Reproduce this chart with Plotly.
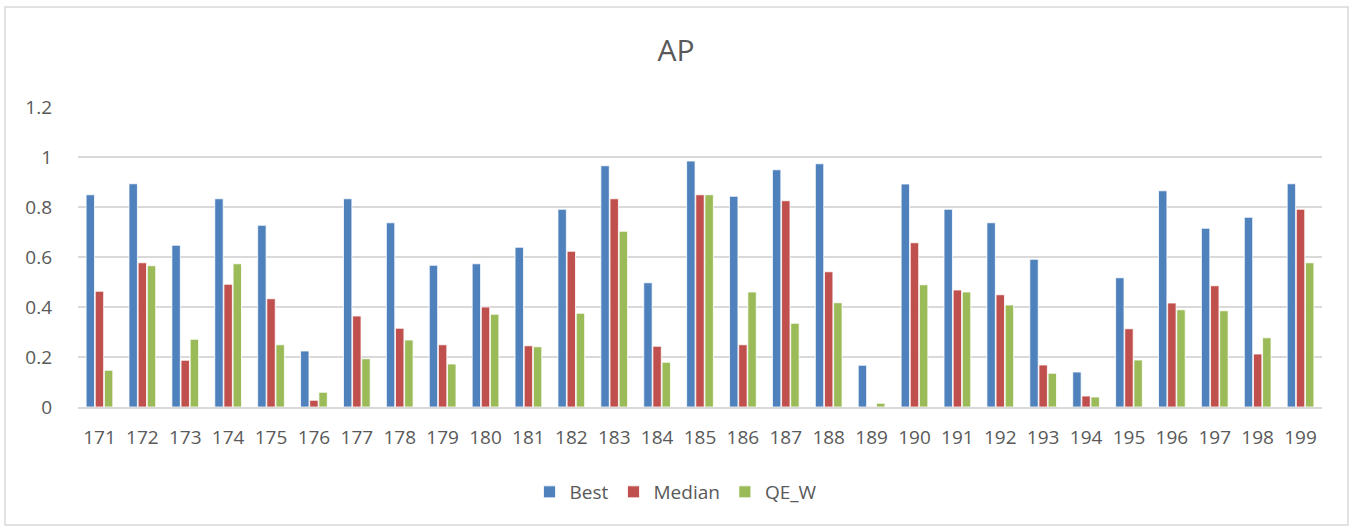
import plotly.graph_objects as go

categories = [str(c) for c in range(171, 200)]
best = [0.849, 0.893, 0.647, 0.833, 0.727, 0.224, 0.833, 0.737, 0.567, 0.573,
        0.639, 0.791, 0.965, 0.497, 0.984, 0.843, 0.949, 0.973, 0.167, 0.892,
        0.791, 0.737, 0.591, 0.140, 0.517, 0.865, 0.715, 0.759, 0.893]
median = [0.463, 0.577, 0.187, 0.491, 0.433, 0.027, 0.364, 0.315, 0.249, 0.400,
          0.245, 0.623, 0.833, 0.243, 0.849, 0.249, 0.825, 0.541, 0.001, 0.657,
          0.468, 0.449, 0.168, 0.044, 0.313, 0.416, 0.485, 0.212, 0.791]
qe_w = [0.147, 0.565, 0.271, 0.573, 0.249, 0.059, 0.193, 0.268, 0.172, 0.371,
        0.241, 0.375, 0.703, 0.179, 0.849, 0.460, 0.335, 0.417, 0.015, 0.489,
        0.460, 0.408, 0.135, 0.040, 0.188, 0.389, 0.385, 0.277, 0.577]
y_ticks = [0, 0.2, 0.4, 0.6, 0.8, 1, 1.2]
y_ticktext = ["0", "0.2", "0.4", "0.6", "0.8", "1", "1.2"]

series = [("Best", best, "#4f81bd"), ("Median", median, "#c0504d"), ("QE_W", qe_w, "#9bbb59")]

fig = go.Figure()
for name, vals, col in series:
    fig.add_trace(go.Bar(x=categories, y=vals, name=name,
                         marker=dict(color=col, line=dict(color="white", width=0.8))))

font_family = "'Open Sans', 'Noto Sans', sans-serif"
W, H = 1352, 527
L, R, T, B = 78, 30, 107, 120
pw, ph = W - L - R, H - T - B
fig.update_layout(
    width=W, height=H,
    barmode="group", bargap=0.36, bargroupgap=0.08,
    paper_bgcolor="white", plot_bgcolor="white",
    margin=dict(l=L, r=R, t=T, b=B),
    font=dict(family=font_family, size=19, color="#595959"),
    title=dict(text="AP", x=0.5, xanchor="center", xref="container",
               y=1 - 50 / H, yanchor="middle", yref="container",
               font=dict(size=30, color="#595959", family=font_family)),
    xaxis=dict(type="category", showgrid=False, showline=True, linecolor="#d9d9d9",
               linewidth=1.5, ticks="", ticklabelstandoff=12,
               tickfont=dict(size=19, color="#595959")),
    yaxis=dict(range=[0, 1.2], showgrid=True, gridcolor="#d9d9d9",
               gridwidth=1.5, zeroline=False, ticks="", ticklabelstandoff=25,
               tickvals=y_ticks, ticktext=y_ticktext,
               tickfont=dict(size=19, color="#595959")),
    legend=dict(orientation="h", xref="container", yref="container",
                x=0.5, xanchor="center", y=1 - 492 / H, yanchor="middle",
                font=dict(size=19, color="#595959"), itemwidth=30,
                traceorder="normal"),
    shapes=[dict(type="rect", xref="paper", yref="paper",
                 x0=(5 - L) / pw, x1=(1348 - L) / pw,
                 y0=(H - B - 525) / ph, y1=(H - B - 7) / ph,
                 line=dict(color="#d9d9d9", width=1.5), fillcolor="rgba(0,0,0,0)",
                 layer="below")],
)

fig.write_html("out.html", config={"displayModeBar": False},
               post_script="document.body.style.margin='0';document.body.style.overflow='hidden';")
